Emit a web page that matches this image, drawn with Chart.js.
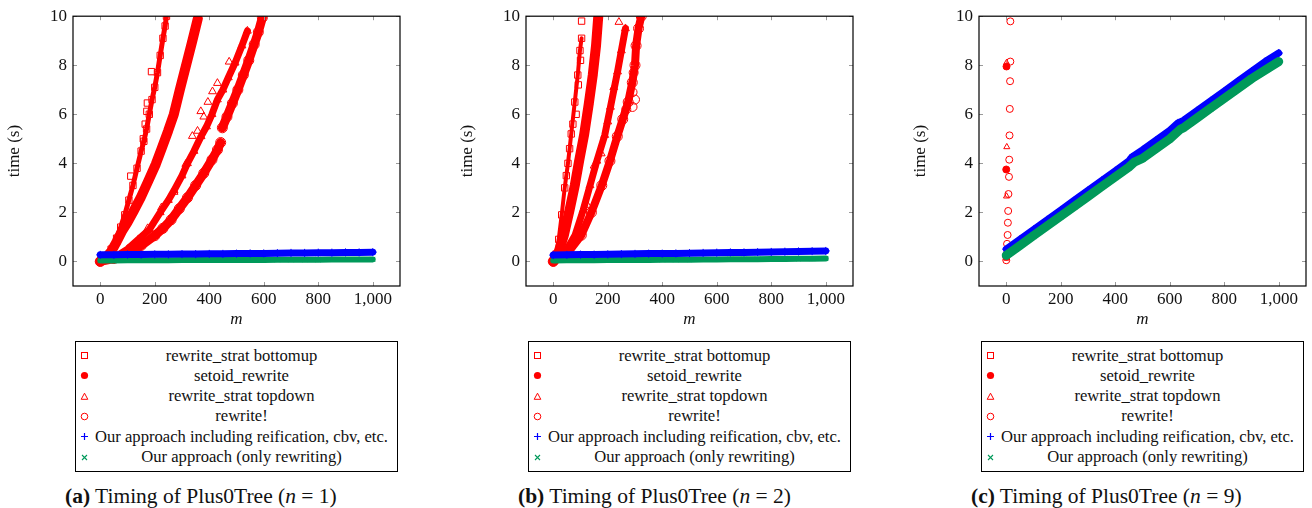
<!DOCTYPE html>
<html>
<head>
<meta charset="utf-8">
<script src="https://cdn.jsdelivr.net/npm/chart.js@4/dist/chart.umd.min.js"></script>
<style>
  body { margin: 0; background: #fff; width: 1312px; height: 508px; position: relative; overflow: hidden;
         font-family: "Liberation Serif", serif; color: #111; }
  .panel { position: absolute; top: 0; width: 406px; height: 508px; }
  .panel canvas { position: absolute; left: 0; top: 0; }
  .legend { position: absolute; left: 75px; top: 341px; width: 323px; height: 131px; box-sizing: border-box;
            border: 1px solid #000; padding-top: 3.5px; }
  .row { display: flex; height: 20.3px; line-height: 20.3px; font-size: 16.6px; }
  .mk { width: 16px; display: flex; align-items: center; justify-content: center; }
  .txt { flex: 1; text-align: center; padding-right: 6px; white-space: nowrap; }
  .caption { position: absolute; left: 65px; top: 484px; font-size: 21.5px; line-height: 24px; white-space: nowrap; }
</style>
</head>
<body>

<div class="panel" style="left:0px"><canvas id="chartA" width="406" height="335"></canvas></div>
<div class="panel" style="left:453px"><canvas id="chartB" width="406" height="335"></canvas></div>
<div class="panel" style="left:906px"><canvas id="chartC" width="406" height="335"></canvas></div>

<script>
// axis ticks
var xTicks = [0, 200, 400, 600, 800, 1000];
var xTickLabels = ['0', '200', '400', '600', '800', '1,000'];
var yTicks = [0, 2, 4, 6, 8, 10];

var seriesNames = [
  'rewrite_strat bottomup',
  'setoid_rewrite',
  'rewrite_strat topdown',
  'rewrite!',
  'Our approach including reification, cbv, etc.',
  'Our approach (only rewriting)'
];

var captions = [
  ['(a)', '1'],
  ['(b)', '2'],
  ['(c)', '9']
];

// ---- (a) n = 1 : [m, time] ----
var bottomupA = [[0,0],[20,0.2],[40,0.5],[60,0.95],[75,1.4],[90,1.9],[105,2.5],[120,3.1],[135,3.8],[150,4.5],
  [160,4.9],[170,5.4],[180,6.0],[190,6.6],[200,7.1],[210,7.7],[220,8.4],[230,9.1],[238,9.6],[243,10.0]];
var bottomupStrayA = [[112,3.48],[171,6.12],[173,6.46],[188,7.74],[165,5.6],[158,5.0]];
var setoidA = [[0,0],[20,0.15],[40,0.4],[60,0.8],[82,1.28],[100,1.6],[120,2.0],[149,2.62],[175,3.25],[204,3.97],
  [225,4.6],[249,5.32],[270,6.0],[292,7.0],[315,8.0],[338,9.0],[358,9.9]];
var topdownA = [[0,0],[50,0.15],[100,0.5],[140,0.9],[180,1.3],[220,2.0],[250,2.5],[271,2.9],[300,3.5],[320,4.0],
  [344,4.5],[370,5.1],[390,5.5],[410,6.0],[430,6.6],[450,7.0],[470,7.5],[495,8.1],[520,8.8],[540,9.4]];
var topdownStrayA = [[174,1.35],[225,2.2],[271,2.83],[314,3.97],[338,5.11],[357,5.32],[369,6.12],[412,6.93],
  [430,7.27],[473,8.14],[395,6.5],[380,5.9]];
var rewriteA = [[0,0],[50,0.12],[100,0.35],[150,0.65],[200,1.05],[230,1.35],[260,1.7],[290,2.15],[320,2.6],[350,3.1],
  [380,3.6],[410,4.15],[430,4.55],[442,4.85],[445,null],
  [448,5.45],[465,5.9],[485,6.45],[505,7.0],[525,7.6],[545,8.2],[565,8.85],[580,9.35],[595,9.95]];
var oursA = [[0,0.27],[50,0.27],[100,0.28],[150,0.28],[200,0.29],[250,0.29],[300,0.3],[350,0.3],[400,0.31],[450,0.31],
  [500,0.32],[550,0.33],[600,0.33],[650,0.34],[700,0.35],[750,0.35],[800,0.36],[850,0.36],[900,0.37],[950,0.37],[1000,0.38]];
var rewriteOnlyA = [[0,0.04],[50,0.04],[100,0.045],[150,0.045],[200,0.05],[250,0.05],[300,0.055],[350,0.055],[400,0.06],
  [450,0.06],[500,0.06],[550,0.065],[600,0.065],[650,0.07],[700,0.07],[750,0.075],[800,0.075],[850,0.08],[900,0.08],
  [950,0.08],[1000,0.085]];

// ---- (b) n = 2 ----
var bottomupB = [[0,0],[10,0.3],[20,0.9],[31,1.9],[42,3.0],[54,4.0],[66,5.2],[79,6.5],[90,7.6],[98,8.6],[104,9.1]];
var bottomupStrayB = [[104,9.8],[100,8.2],[92,7.2],[84,6.0],[72,5.6],[60,4.6],[48,3.5]];
var setoidB = [[0,0],[20,0.4],[39,1.07],[60,2.1],[79,3.1],[95,4.1],[113,5.15],[130,6.4],[145,7.6],[157,8.8],[165,9.96]];
var topdownB = [[0,0],[40,0.3],[80,1.07],[110,2.1],[135,3.1],[160,4.1],[189,5.15],[210,6.3],[236,7.74],[250,8.6],[265,9.5]];
var topdownStrayB = [[241,9.76],[222,7.1],[200,5.7],[176,4.4],[150,3.9],[125,2.3]];
var rewriteB = [[0,0],[50,0.3],[103,1.07],[140,2.0],[178,3.1],[208,4.1],[235,5.1],[255,5.8],[275,6.5],[290,7.3],
  [300,8.0],[304,8.8],[313,9.5],[323,10]];
var rewriteStrayB = [[291,6.3],[291,6.9],[300,6.6],[268,6.2],[295,7.7]];
var oursB = [[0,0.26],[50,0.27],[100,0.28],[150,0.28],[200,0.29],[250,0.30],[300,0.31],[350,0.32],[400,0.32],[450,0.33],
  [500,0.34],[550,0.35],[600,0.36],[650,0.37],[700,0.37],[750,0.38],[800,0.39],[850,0.40],[900,0.41],[950,0.42],[1000,0.43]];
var rewriteOnlyB = [[0,0.04],[50,0.045],[100,0.05],[150,0.05],[200,0.055],[250,0.06],[300,0.06],[350,0.065],[400,0.07],
  [450,0.07],[500,0.075],[550,0.08],[600,0.085],[650,0.09],[700,0.09],[750,0.095],[800,0.10],[850,0.105],[900,0.11],
  [950,0.115],[1000,0.12]];

// ---- (c) n = 9 ----
var bottomupC = [[0,0.15]];
var setoidC = [[1,7.95],[0,3.75],[0,0.2]];
var topdownC = [[1,8.1],[2,4.67],[1,2.66],[0,0.35]];
var rewriteC = [[15,9.79],[15,8.15],[14,7.35],[13,6.22],[12,5.14],[11,4.15],[10,3.45],[8,2.75],[7,2.06],[6,1.58],
  [5,1.08],[3,0.72],[1,0.3],[0,0.05]];
var oursC = [[0,0.5],[50,0.9],[100,1.3],[150,1.7],[200,2.1],[250,2.5],[300,2.9],[350,3.3],[400,3.7],[450,4.1],[460,4.25],
  [500,4.55],[550,4.95],[600,5.35],[630,5.65],[650,5.75],[700,6.15],[750,6.55],[800,6.95],[850,7.35],[900,7.75],
  [950,8.15],[1000,8.5]];
var rewriteOnlyC = [[0,0.25],[50,0.65],[100,1.05],[150,1.45],[200,1.85],[250,2.25],[300,2.65],[350,3.05],[400,3.45],
  [450,3.85],[470,4.05],[500,4.2],[550,4.6],[600,5.0],[640,5.4],[650,5.45],[700,5.85],[750,6.25],[800,6.65],[850,7.05],
  [900,7.45],[950,7.8],[1000,8.15]];

var RED = '#ff0000', BLUE = '#0000ff', GREEN = '#00995a';
var SERIF = '"Liberation Serif", serif';

function pts(arr) {
  return arr.map(function (p) { return {x: p[0], y: p[1]}; });
}

function mkSet(i, data, color, style, radius, fill, lineW, order) {
  return {
    label: seriesNames[i],
    data: pts(data),
    showLine: lineW > 0,
    borderWidth: lineW,
    borderColor: color,
    backgroundColor: color,
    pointStyle: style,
    pointRadius: radius,
    pointBorderWidth: 1,
    pointBorderColor: color,
    pointBackgroundColor: fill ? color : 'rgba(0,0,0,0)',
    borderCapStyle: 'round',
    borderJoinStyle: 'round',
    spanGaps: false,
    tension: 0,
    order: order
  };
}

// inner tick marks + frame, like pgfplots
var frameTicks = {
  id: 'frameTicks',
  afterDatasetsDraw: function (chart) {
    var ctx = chart.ctx, a = chart.chartArea, x = chart.scales.x, y = chart.scales.y;
    ctx.save();
    ctx.strokeStyle = '#9a9a9a';
    ctx.lineWidth = 1;
    ctx.beginPath();
    xTicks.forEach(function (v) {
      var px = Math.round(x.getPixelForValue(v)) + 0.5;
      ctx.moveTo(px, a.bottom); ctx.lineTo(px, a.bottom - 4);
      ctx.moveTo(px, a.top); ctx.lineTo(px, a.top + 4);
    });
    yTicks.forEach(function (v) {
      var py = Math.round(y.getPixelForValue(v)) + 0.5;
      ctx.moveTo(a.left, py); ctx.lineTo(a.left + 4, py);
      ctx.moveTo(a.right, py); ctx.lineTo(a.right - 4, py);
    });
    ctx.stroke();
    ctx.strokeStyle = '#000';
    ctx.lineWidth = 1.2;
    ctx.strokeRect(a.left, a.top, a.right - a.left, a.bottom - a.top);
    ctx.restore();
  }
};

function makeChart(id, sets) {
  return new Chart(document.getElementById(id), {
    type: 'scatter',
    data: {datasets: sets},
    plugins: [frameTicks],
    options: {
      responsive: false,
      animation: false,
      devicePixelRatio: 1,
      layout: {padding: {left: 0, top: 14, right: 6, bottom: 0}},
      plugins: {legend: {display: false}, tooltip: {enabled: false}},
      scales: {
        x: {
          type: 'linear', min: -100, max: 1100,
          afterBuildTicks: function (s) { s.ticks = xTicks.map(function (v) { return {value: v}; }); },
          afterFit: function (s) { s.height = 49; },
          grid: {display: false, drawTicks: false},
          border: {display: false},
          ticks: {
            padding: 3, color: '#111', font: {family: SERIF, size: 17}, maxRotation: 0,
            callback: function (v) { return xTickLabels[xTicks.indexOf(v)]; }
          },
          title: {display: true, text: 'm', color: '#111', padding: {top: 0, bottom: 5},
                  font: {family: SERIF, size: 17, style: 'italic'}}
        },
        y: {
          type: 'linear', min: -1, max: 10,
          afterBuildTicks: function (s) { s.ticks = yTicks.map(function (v) { return {value: v}; }); },
          afterFit: function (s) { s.width = 73; },
          grid: {display: false, drawTicks: false},
          border: {display: false},
          ticks: {padding: 6, color: '#111', font: {family: SERIF, size: 17}},
          title: {display: true, text: 'time (s)', color: '#111', padding: {top: 4, bottom: 0},
                  font: {family: SERIF, size: 17}}
        }
      }
    }
  });
}

makeChart('chartA', [
  mkSet(4, oursA, BLUE, 'cross', 4, false, 7, 1),
  mkSet(5, rewriteOnlyA, GREEN, 'crossRot', 3.5, false, 6, 2),
  mkSet(0, bottomupA, RED, 'rect', 4.5, false, 5, 10),
  mkSet(0, bottomupStrayA, RED, 'rect', 4.5, false, 0, 10),
  mkSet(1, setoidA, RED, 'circle', 4, true, 10, 11),
  mkSet(2, topdownA, RED, 'triangle', 4.5, false, 7, 12),
  mkSet(2, topdownStrayA, RED, 'triangle', 4.5, false, 0, 12),
  mkSet(3, rewriteA, RED, 'circle', 5, false, 9, 13)
]);
makeChart('chartB', [
  mkSet(4, oursB, BLUE, 'cross', 4, false, 7, 1),
  mkSet(5, rewriteOnlyB, GREEN, 'crossRot', 3.5, false, 6, 2),
  mkSet(0, bottomupB, RED, 'rect', 4.5, false, 4, 10),
  mkSet(0, bottomupStrayB, RED, 'rect', 4.5, false, 0, 10),
  mkSet(1, setoidB, RED, 'circle', 4, true, 10, 11),
  mkSet(2, topdownB, RED, 'triangle', 4.5, false, 7, 12),
  mkSet(2, topdownStrayB, RED, 'triangle', 4.5, false, 0, 12),
  mkSet(3, rewriteB, RED, 'circle', 5, false, 8, 13),
  mkSet(3, rewriteStrayB, RED, 'circle', 4.5, false, 0, 13)
]);
makeChart('chartC', [
  mkSet(4, oursC, BLUE, 'cross', 4, false, 7, 2),
  mkSet(5, rewriteOnlyC, GREEN, 'crossRot', 4, false, 9, 1),
  mkSet(0, bottomupC, RED, 'rect', 3.5, false, 0, 10),
  mkSet(1, setoidC, RED, 'circle', 3.5, true, 0, 11),
  mkSet(2, topdownC, RED, 'triangle', 3.5, false, 0, 12),
  mkSet(3, rewriteC, RED, 'circle', 3.5, false, 0, 13)
]);

// legend boxes and captions
var markers = [
  '<svg width="9" height="9"><rect x="1.5" y="1.5" width="6" height="6" fill="none" stroke="' + RED + '"/></svg>',
  '<svg width="9" height="9"><circle cx="4.5" cy="4.5" r="3.6" fill="' + RED + '"/></svg>',
  '<svg width="9" height="9"><polygon points="4.5,1.2 7.8,7.3 1.2,7.3" fill="none" stroke="' + RED + '"/></svg>',
  '<svg width="9" height="9"><circle cx="4.5" cy="4.5" r="3.3" fill="none" stroke="' + RED + '"/></svg>',
  '<svg width="9" height="9"><path d="M4.5 1V8M1 4.5H8" stroke="' + BLUE + '" stroke-width="1.2"/></svg>',
  '<svg width="9" height="9"><path d="M2 2L7 7M7 2L2 7" stroke="' + GREEN + '" stroke-width="1.1"/></svg>'
];

document.querySelectorAll('.panel').forEach(function (panel, k) {
  var box = document.createElement('div');
  box.className = 'legend';
  seriesNames.forEach(function (name, i) {
    var row = document.createElement('div');
    row.className = 'row';
    row.innerHTML = '<span class="mk">' + markers[i] + '</span><span class="txt"></span>';
    row.querySelector('.txt').textContent = name;
    box.appendChild(row);
  });
  panel.appendChild(box);
  var cap = document.createElement('div');
  cap.className = 'caption';
  cap.innerHTML = '<b>' + captions[k][0] + '</b> Timing of Plus0Tree (<i>n</i> = ' + captions[k][1] + ')';
  panel.appendChild(cap);
});
</script>
</body>
</html>
